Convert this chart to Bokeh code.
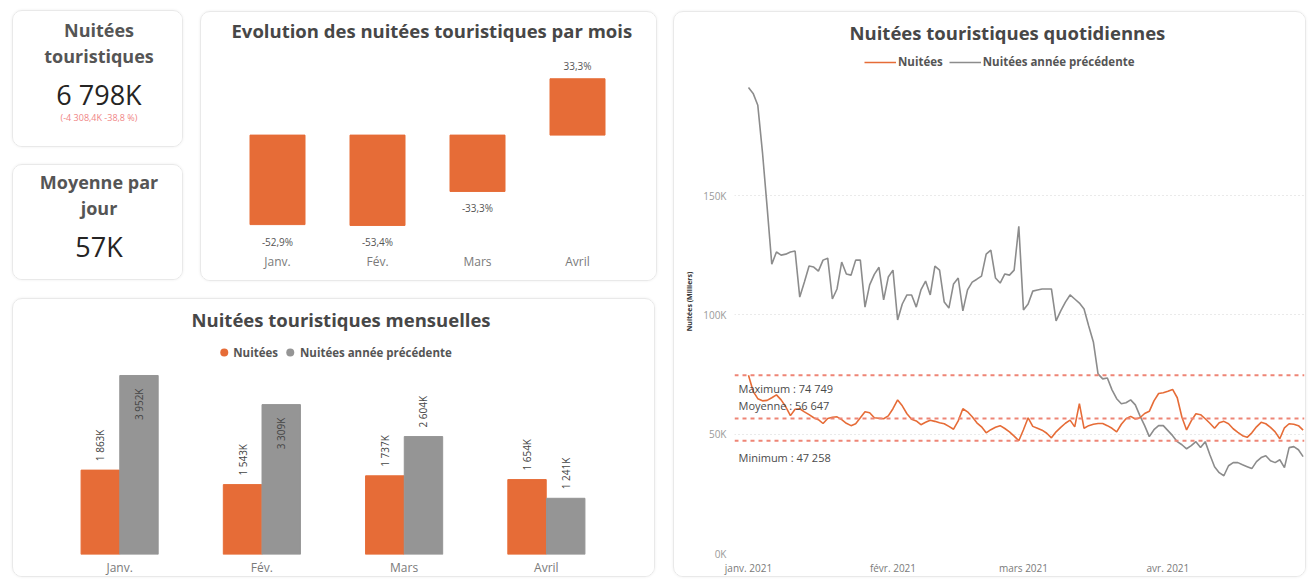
import numpy as np
from bokeh.plotting import figure
from bokeh.models import (ColumnDataSource, Range1d, FactorRange, LabelSet, Label, Span,
                          Legend, LegendItem, FixedTicker, PrintfTickFormatter)
from bokeh.layouts import row, column
from bokeh.transform import dodge
from bokeh.core.properties import value
from bokeh.embed import file_html
from bokeh.resources import INLINE

FONT = "Open Sans"
ORANGE = "#E66C37"
GRAY_BAR = "#959595"
GRAY_LINE = "#8C8C8C"
TITLE_COLOR = "#474747"

# ---------------- data ----------------
kpi1_title = ["Nuitées", "touristiques"]
kpi1_value = "6 798K"
kpi1_delta = "(-4 308,4K -38,8 %)"
kpi2_title = ["Moyenne par", "jour"]
kpi2_value = "57K"

months = ["Janv.", "Fév.", "Mars", "Avril"]
evolution_pct = [-52.9, -53.4, -33.3, 33.3]

monthly_current = [1863, 1543, 1737, 1654]      # K
monthly_previous = [3952, 3309, 2604, 1241]     # K

# daily values in thousands, 1 Jan 2021 -> 30 Apr 2021
daily_current = [
    74.749, 68.0, 64.9, 64.0, 64.2, 65.3, 66.5, 64.4, 61.5, 57.8,
    60.5, 60.7, 59.4, 58.2, 56.9, 56.1, 54.5, 56.6, 57.1, 57.3,
    56.1, 54.6, 53.6, 54.4, 56.9, 59.4, 59.0, 56.9, 56.7, 56.5,
    57.7, 60.7, 64.4, 61.9, 58.6, 56.3, 55.6, 54.0, 55.0, 55.9,
    55.4, 54.8, 54.4, 53.3, 52.1, 55.6, 60.7, 59.4, 57.3, 54.8,
    53.1, 50.6, 51.9, 52.9, 53.6, 52.4, 51.0, 49.2, 47.258, 51.9,
    56.9, 53.3, 52.5, 51.7, 50.4, 48.5, 51.0, 52.9, 54.6, 55.9,
    53.1, 62.8, 52.5, 53.6, 54.2, 54.5, 54.5, 53.6, 52.5, 51.0,
    54.2, 56.5, 57.5, 56.4, 56.9, 58.7, 59.6, 64.0, 67.1, 67.4,
    68.0, 68.8, 65.3, 57.1, 51.8, 55.6, 58.6, 58.2, 56.5, 54.6,
    52.5, 54.8, 55.4, 54.4, 52.3, 50.8, 49.4, 48.7, 50.6, 53.1,
    55.0, 54.4, 52.9, 51.0, 48.1, 52.7, 54.4, 54.2, 53.6, 51.7,
]
daily_previous = [
    195.4, 192.9, 187.9, 168.2, 145.2, 121.3, 126.4, 125.1, 125.5, 126.4,
    126.8, 107.5, 113.8, 120.5, 120.1, 118.4, 123.0, 123.8, 106.7, 110.9,
    122.2, 117.2, 116.7, 123.0, 123.0, 103.3, 112.6, 117.0, 120.0, 106.3,
    115.9, 118.8, 97.9, 104.6, 108.4, 108.4, 103.3, 110.5, 114.2, 108.4,
    120.5, 118.8, 105.4, 102.9, 113.0, 115.5, 101.7, 110.5, 113.8, 115.0,
    116.3, 125.5, 127.2, 115.5, 113.4, 117.2, 116.7, 118.8, 137.2, 102.1,
    104.6, 110.0, 110.5, 110.9, 110.9, 110.9, 97.5, 101.7, 105.4, 108.4,
    106.7, 105.0, 102.5, 95.4, 88.7, 75.3, 73.2, 73.6, 68.6, 64.9,
    62.8, 63.2, 64.4, 62.3, 57.7, 53.6, 49.0, 51.9, 53.6, 53.6,
    51.5, 49.4, 46.9, 45.6, 43.9, 45.2, 46.9, 44.4, 46.9, 41.4,
    36.4, 33.9, 32.6, 36.8, 38.1, 38.1, 37.2, 36.4, 35.6, 38.5,
    40.2, 41.0, 38.9, 38.1, 39.3, 36.0, 44.4, 44.8, 43.5, 40.6,
]
stat_max = 74749
stat_mean = 56647
stat_min = 47258
x_tick_days = [0, 31, 59, 90]
x_tick_labels = ["janv. 2021", "févr. 2021", "mars 2021", "avr. 2021"]
y_ticks = [0, 50, 100, 150]

CARD = {"border": "1px solid #e9e9e9", "border-radius": "10px", "overflow": "hidden",
        "box-shadow": "0 0 3px rgba(0,0,0,0.07)", "box-sizing": "border-box"}


def base(w, h, **kw):
    p = figure(width=w, height=h, output_backend="svg", toolbar_location=None, **kw)
    p.outline_line_color = None
    p.background_fill_color = "white"
    p.border_fill_color = "white"
    p.styles = CARD
    return p


def style_title(p, offset=0, valign="bottom", standoff=10):
    p.title.text_font = FONT
    p.title.text_font_size = "18.5px"
    p.title.text_font_style = "bold"
    p.title.text_color = TITLE_COLOR
    p.title.align = "left"
    p.title.offset = offset
    p.title.vertical_align = valign
    p.title.standoff = standoff


def style_xaxis(ax, size="11px", color="#7a7a7a", standoff=6):
    ax.axis_line_color = None
    ax.major_tick_line_color = None
    ax.minor_tick_line_color = None
    ax.major_tick_out = 0
    ax.major_tick_in = 0
    ax.minor_tick_out = 0
    ax.major_label_text_font = FONT
    ax.major_label_text_font_size = size
    ax.major_label_text_color = color
    ax.major_label_standoff = standoff


def fmt_k(v):
    return f"{v:,}".replace(",", " ") + "K"


def make_legend(items, glyph_width, glyph_height, margin, standoff, spacing=6,
                location="top_center"):
    return Legend(items=items, orientation="horizontal", location=location,
                  margin=margin, padding=0, spacing=spacing, label_standoff=standoff,
                  glyph_width=glyph_width, glyph_height=glyph_height, label_height=12,
                  border_line_color=None, background_fill_alpha=0,
                  label_text_font=FONT, label_text_font_size="11.5px",
                  label_text_font_style="bold", label_text_color="#555555")


# ---------------- KPI cards ----------------
def kpi_card(w, h, titles, title_ys, val, val_y, sub=None, sub_y=None):
    p = base(w, h, x_range=Range1d(0, w), y_range=Range1d(h, 0),
             x_axis_type=None, y_axis_type=None, min_border=0)
    p.grid.visible = False
    p.text(x=[w / 2] * len(titles), y=title_ys, text=titles, text_align="center",
           text_baseline="middle", text_font=value(FONT), text_font_style="bold",
           text_font_size="18px", text_color="#555555")
    p.text(x=[w / 2], y=[val_y], text=[val], text_align="center", text_baseline="middle",
           text_font=value(FONT), text_font_size="27px", text_color="#252423")
    if sub:
        p.text(x=[w / 2], y=[sub_y], text=[sub], text_align="center", text_baseline="middle",
               text_font=value(FONT), text_font_size="9px", text_color="#F08585")
    return p


kpi1 = kpi_card(171, 137, kpi1_title, [18, 44], kpi1_value, 83, kpi1_delta, 106)
kpi2 = kpi_card(171, 116, kpi2_title, [16, 42], kpi2_value, 81)

# ---------------- Evolution chart ----------------
evol = base(457, 270, x_range=FactorRange(*months), y_range=Range1d(-68.8, 50.6),
            min_border_left=26, min_border_right=31, min_border_top=36, min_border_bottom=31,
            title="Evolution des nuitées touristiques par mois")
style_title(evol, 4, "top", 10)
evol.vbar(x=months, top=evolution_pct, bottom=0, width=0.55, color=ORANGE)
evol.yaxis.visible = False
evol.grid.visible = False
style_xaxis(evol.xaxis[0], "12px", "#7a7a7a", 1)

pos = [(m, v) for m, v in zip(months, evolution_pct) if v >= 0]
neg = [(m, v) for m, v in zip(months, evolution_pct) if v < 0]
def pct_txt(v):
    return f"{v:.1f}%".replace(".", ",")
src_pos = ColumnDataSource(dict(m=[a for a, _ in pos], v=[b for _, b in pos],
                                t=[pct_txt(b) for _, b in pos]))
src_neg = ColumnDataSource(dict(m=[a for a, _ in neg], v=[b for _, b in neg],
                                t=[pct_txt(b) for _, b in neg]))
evol.add_layout(LabelSet(x="m", y="v", text="t", source=src_pos, y_offset=6,
                         text_align="center", text_baseline="bottom", text_font=value(FONT),
                         text_font_size="10px", text_color="#555555"))
evol.add_layout(LabelSet(x="m", y="v", text="t", source=src_neg, y_offset=-10,
                         text_align="center", text_baseline="top", text_font=value(FONT),
                         text_font_size="10px", text_color="#555555"))

# ---------------- Monthly bars ----------------
ymax_m = 4813
monthly = base(643, 279, x_range=FactorRange(*months), y_range=Range1d(0, ymax_m),
               min_border_left=35, min_border_right=39, min_border_top=37, min_border_bottom=24,
               title="Nuitées touristiques mensuelles")
style_title(monthly, 143, "bottom", 10)
msrc = ColumnDataSource(dict(month=months, cur=monthly_current, prev=monthly_previous))
off = 0.136
monthly.vbar(x=dodge("month", -off, range=monthly.x_range), top="cur", width=0.27,
             source=msrc, color=ORANGE)
monthly.vbar(x=dodge("month", off, range=monthly.x_range), top="prev", width=0.27,
             source=msrc, color=GRAY_BAR)
monthly.yaxis.visible = False
monthly.grid.visible = False
style_xaxis(monthly.xaxis[0], "12px", "#7a7a7a", 4)

for vals, shift in ((monthly_current, -off), (monthly_previous, off)):
    outside = [(m, v) for m, v in zip(months, vals) if v < 0.64 * ymax_m]
    inside = [(m, v) for m, v in zip(months, vals) if v >= 0.64 * ymax_m]
    for items, align, yo in ((outside, "left", 9), (inside, "right", -13)):
        if not items:
            continue
        s = ColumnDataSource(dict(month=[a for a, _ in items], v=[b for _, b in items],
                                  t=[fmt_k(b) for _, b in items]))
        monthly.add_layout(LabelSet(x=dodge("month", shift, range=monthly.x_range), y="v",
                                    text="t", source=s, angle=np.pi / 2, y_offset=yo,
                                    text_align=align, text_baseline="middle",
                                    text_font=value(FONT), text_font_size="10px",
                                    text_color="#444444"))

# legend proxies: zero-size markers on the bar tops (legend draws its own circle size)
d1 = monthly.scatter(x=dodge("month", -off, range=monthly.x_range), y="cur", source=msrc,
                     marker="circle", size=0, fill_color=ORANGE, line_color=None)
d2 = monthly.scatter(x=dodge("month", off, range=monthly.x_range), y="prev", source=msrc,
                     marker="circle", size=0, fill_color=GRAY_BAR, line_color=None)
monthly.add_layout(make_legend([LegendItem(label="Nuitées", renderers=[d1]),
                                LegendItem(label="Nuitées année précédente", renderers=[d2])],
                               20, 20, 6, 0, 2))

# ---------------- Daily line chart ----------------
days = list(range(len(daily_current)))
xr = Range1d(-3.0, 119.3)
daily = base(633, 566, x_range=xr, y_range=Range1d(0, 211.3),
             min_border_left=60, min_border_right=3, min_border_top=36, min_border_bottom=25,
             title="Nuitées touristiques quotidiennes")
style_title(daily, 115, "bottom", 10)
lp = daily.line(days, daily_previous, color=GRAY_LINE, line_width=1.6)
lc = daily.line(days, daily_current, color=ORANGE, line_width=1.6)

for v in (stat_max, stat_mean, stat_min):
    daily.add_layout(Span(location=v / 1000, dimension="width", line_color="#EE8576",
                          line_dash="4 4", line_width=2))

def sep(v):
    return f"{v:,}".replace(",", " ")
for txt, v, yo, bl in ((f"Maximum : {sep(stat_max)}", stat_max, -6, "top"),
                       (f"Moyenne : {sep(stat_mean)}", stat_mean, 5, "bottom"),
                       (f"Minimum : {sep(stat_min)}", stat_min, -9, "top")):
    daily.add_layout(Label(x=xr.start, y=v / 1000, text=txt, x_offset=4, y_offset=yo,
                           text_baseline=bl, text_align="left", text_font=FONT,
                           text_font_size="11px", text_color="#4a4a4a"))

daily.xgrid.visible = False
daily.ygrid.grid_line_color = "#d5d5d5"
daily.ygrid.grid_line_dash = "1 3"
daily.ygrid.grid_line_width = 1
yax = daily.yaxis[0]
yax.ticker = FixedTicker(ticks=y_ticks)
yax.formatter = PrintfTickFormatter(format="%dK")
yax.axis_line_color = None
yax.major_tick_line_color = None
yax.minor_tick_line_color = None
yax.major_tick_out = 0
yax.major_tick_in = 0
yax.minor_tick_out = 0
yax.major_label_text_font = FONT
yax.major_label_text_font_size = "10px"
yax.major_label_text_color = "#9a9a9a"
yax.major_label_standoff = 8
yax.axis_label = "Nuitées (Milliers)"
yax.axis_label_text_font = FONT
yax.axis_label_text_font_size = "7px"
yax.axis_label_text_font_style = "bold"
yax.axis_label_text_color = "#333333"
yax.axis_label_standoff = 6
xax = daily.xaxis[0]
xax.ticker = FixedTicker(ticks=x_tick_days)
xax.major_label_overrides = dict(zip(x_tick_days, x_tick_labels))
style_xaxis(xax, "10px", "#7a7a7a", 7)

daily.add_layout(make_legend([LegendItem(label="Nuitées", renderers=[lc]),
                              LegendItem(label="Nuitées année précédente", renderers=[lp])],
                             32, 12, 0, 2, 6, (130, 484)))

# ---------------- layout ----------------
kpi1.margin = (10, 0, 0, 12)
kpi2.margin = (17, 0, 0, 12)
evol.margin = (11, 0, 0, 17)
monthly.margin = (17, 0, 0, 12)
daily.margin = (11, 0, 0, 16)

left = column(row(column(kpi1, kpi2), evol), monthly)
page = row(left, daily)

open("out.html", "w").write(file_html(page, INLINE))
